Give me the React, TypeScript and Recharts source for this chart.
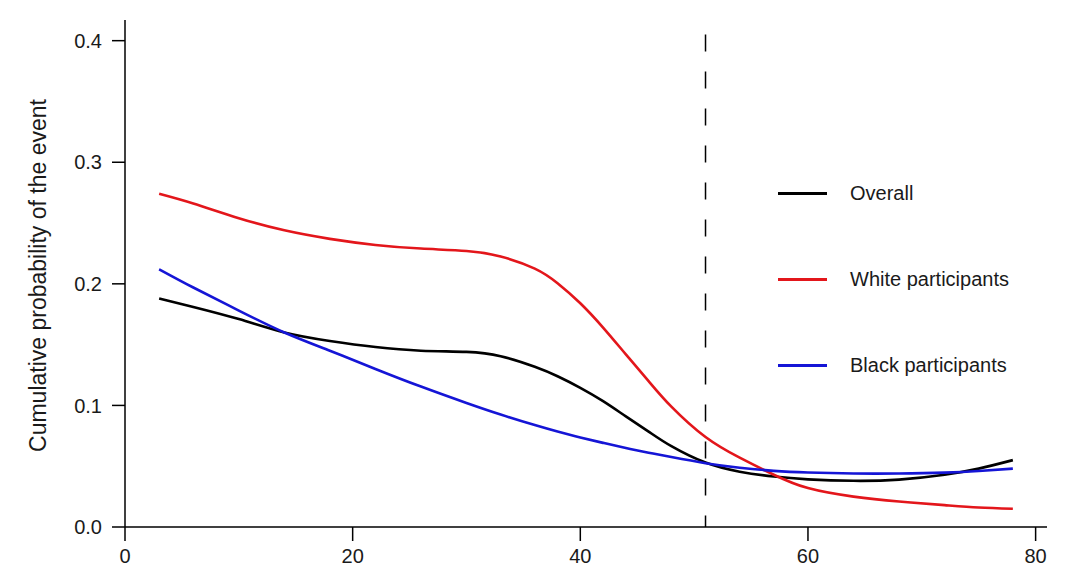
import { LineChart, Line, XAxis, YAxis, ReferenceLine, Legend } from "recharts";

// age grid shared by the three smoothed curves
const ages = [3, 6, 10, 14, 18, 22, 26, 30, 33, 36, 38, 40, 42, 44, 46, 48, 51, 54, 57, 60, 64, 68, 72, 75, 78];

const overall = [0.188, 0.181, 0.171, 0.16, 0.153, 0.148, 0.145, 0.144, 0.1405, 0.1318, 0.124, 0.1145, 0.1035, 0.091, 0.0785, 0.0665, 0.053, 0.0455, 0.0415, 0.0392, 0.038, 0.039, 0.043, 0.048, 0.055];
const white = [0.274, 0.266, 0.254, 0.244, 0.237, 0.232, 0.229, 0.227, 0.2225, 0.2125, 0.2005, 0.184, 0.164, 0.142, 0.12, 0.099, 0.074, 0.057, 0.043, 0.032, 0.025, 0.021, 0.018, 0.016, 0.015];
const black = [0.212, 0.197, 0.178, 0.16, 0.145, 0.13, 0.1155, 0.102, 0.0925, 0.0838, 0.0785, 0.0737, 0.0692, 0.065, 0.0611, 0.0575, 0.0525, 0.0488, 0.0462, 0.0448, 0.044, 0.044, 0.0447, 0.046, 0.048];

const xTicks = [0, 20, 40, 60, 80];
const yTicks = [0, 0.1, 0.2, 0.3, 0.4];
const cutoff = 51;

const series = [
    { key: "overall", name: "Overall", color: "#000000" },
    { key: "white", name: "White participants", color: "#e3161b" },
    { key: "black", name: "Black participants", color: "#1515d6" },
];

const data = ages.map((age, i) => ({
    age,
    overall: overall[i],
    white: white[i],
    black: black[i],
}));

const FONT = '"Liberation Sans", Arial, sans-serif';

const LegendBox = () => (
    <div style={{ fontFamily: FONT, fontSize: 20, color: "#1a1a1a" }}>
        {series.map((s) => (
            <div key={s.key} style={{ height: 86, display: "flex", alignItems: "center" }}>
                <div style={{ width: 49, height: 3, background: s.color, marginRight: 23 }} />
                <span>{s.name}</span>
            </div>
        ))}
    </div>
);

const App = () => {
    return (
        <div style={{ position: "absolute", left: 0, top: 0 }}>
            <LineChart width={1076} height={581} data={data} margin={{ top: 20, right: 29, bottom: 0, left: 0 }}>
                <XAxis
                    dataKey="age"
                    type="number"
                    domain={[0, 81]}
                    ticks={xTicks}
                    height={54}
                    tickSize={14}
                    tickMargin={8}
                    stroke="#000"
                    strokeWidth={1.5}
                    tick={{ fill: "#1a1a1a", fontSize: 20, fontFamily: FONT }}
                    tickLine={{ stroke: "#000", strokeWidth: 1.5 }}
                />
                <YAxis
                    type="number"
                    domain={[0, 0.417]}
                    ticks={yTicks}
                    width={125}
                    tickSize={13}
                    tickMargin={10}
                    stroke="#000"
                    strokeWidth={1.5}
                    tickFormatter={(v: number) => v.toFixed(1)}
                    tick={{ fill: "#1a1a1a", fontSize: 20, fontFamily: FONT }}
                    tickLine={{ stroke: "#000", strokeWidth: 1.5 }}
                    label={{
                        content: (props: any) => {
                            const vb = props.viewBox;
                            const cx = vb.x + 38;
                            const cy = vb.y + vb.height / 2 + 2;
                            return (
                                <text
                                    x={cx}
                                    y={cy}
                                    transform={`rotate(-90, ${cx}, ${cy})`}
                                    textAnchor="middle"
                                    dominantBaseline="central"
                                    fill="#1a1a1a"
                                    fontSize={23}
                                    fontFamily={FONT}
                                >
                                    Cumulative probability of the event
                                </text>
                            );
                        },
                    }}
                />
                <ReferenceLine
                    segment={[{ x: cutoff, y: 0.405 }, { x: cutoff, y: 0 }]}
                    stroke="#000"
                    strokeWidth={1.5}
                    strokeDasharray="17 20"
                />
                {series.map((s) => (
                    <Line
                        key={s.key}
                        dataKey={s.key}
                        name={s.name}
                        type="natural"
                        stroke={s.color}
                        strokeWidth={2.6}
                        dot={false}
                        activeDot={false}
                        isAnimationActive={false}
                    />
                ))}
                <Legend
                    layout="vertical"
                    align="center"
                    verticalAlign="middle"
                    content={() => <LegendBox />}
                    wrapperStyle={{ left: 778, top: 150, width: 300, height: "auto" }}
                />
            </LineChart>
        </div>
    );
};

export default App;
